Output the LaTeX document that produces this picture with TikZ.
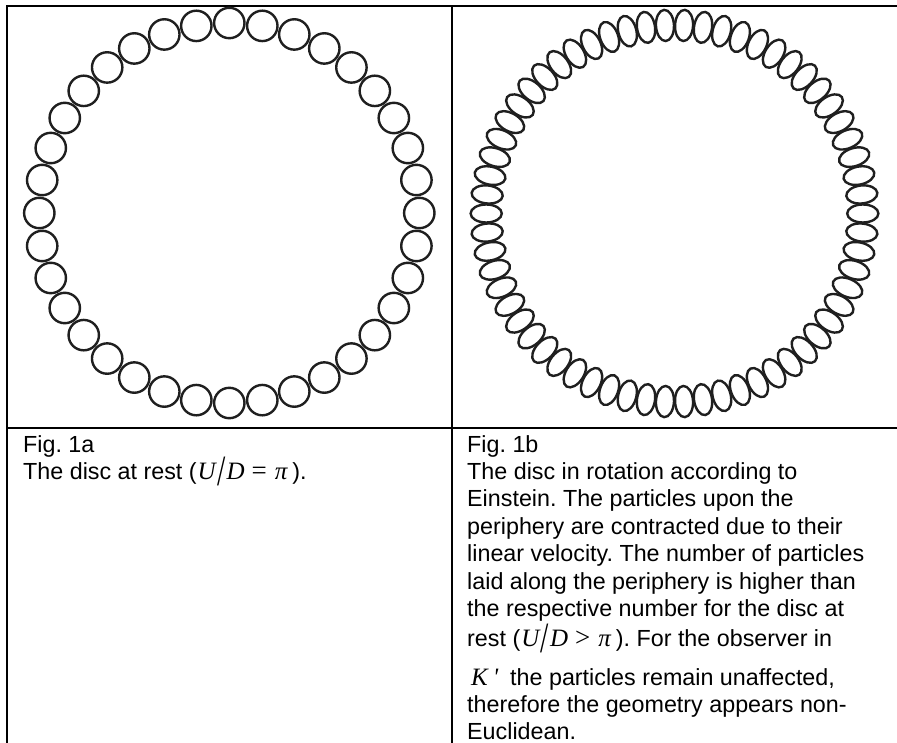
\documentclass[tikz,border=0pt]{standalone}
\usepackage{fontspec}
\setmainfont{Liberation Sans}
\newfontfamily\tms{Liberation Serif}
\usepackage{graphicx}
\frenchspacing
\newcommand\mvar[1]{{\tms\itshape\fontsize{25}{27}\selectfont #1}}
\newcommand\mup[1]{{\tms\fontsize{27}{27}\selectfont #1}}
\newcommand\bigslash{\hspace{1.5pt}\raisebox{-0.28em}{\scalebox{1.1}[1.6]{\mup{/}}}\hspace{1pt}}
\tikzset{
  frame/.style={line width=2.2pt, black, line cap=rect},
  bead/.style={line width=2.4pt, black!88},
  txt/.style={anchor=base west, inner sep=0pt, font=\fontsize{23.3}{27}\selectfont},
}
\begin{document}
\begin{tikzpicture}[x=1pt,y=-1pt]
\useasboundingbox (0,0) rectangle (897,743);
\fill[white] (0,0) rectangle (897,743);
% table lines
\draw[frame] (7,745) -- (7,6) -- (899,6);
\draw[frame] (452,6) -- (452,745);
\draw[frame] (7,428) -- (899,428);
% disc at rest
\foreach \i in {0,...,35}
  \draw[bead] ({229.3+190*cos(\i*10)},{213+190*sin(\i*10)}) circle[radius=15.2];
% rotating disc
\begin{scope}[shift={(674.5,213.5)}]
\foreach \i in {0,...,61}
  \draw[bead, rotate={\i*5.80645}] (188.3,0) ellipse[x radius=15.6, y radius=9.0];
\end{scope}
% captions left
\node[txt] (la1) at (23,452) {Fig. 1a};
\node[txt] (la2) at (23,479) {The disc at rest (\hspace{1pt}\mvar{U}\bigslash\mvar{D}\hspace{7pt}\mup{=}\hspace{8pt}\mvar{π}\hspace{5pt}).};
% captions right
\node[txt] (lb1) at (467,452) {Fig. 1b};
\node[txt] (lb2) at (467,479.3) {The disc in rotation according to};
\node[txt] (lb3) at (467,506.7) {Einstein. The particles upon the};
\node[txt] (lb4) at (467,534.3) {periphery are contracted due to their};
\node[txt] (lb5) at (467,561.7) {linear velocity. The number of particles};
\node[txt] (lb6) at (467,589.3) {laid along the periphery is higher than};
\node[txt] (lb7) at (467,616.7) {the respective number for the disc at};
\node[txt] (lb8) at (467,646) {rest (\hspace{1pt}\mvar{U}\bigslash\mvar{D}\hspace{7pt}\mup{>}\hspace{8pt}\mvar{π}\hspace{5pt}). For the observer in};
\node[txt] (lb9) at (467,685) {\hspace{4pt}\mvar{K}\hspace{5pt}\mvar{'}\hspace{12pt}the particles remain unaffected,};
\node[txt] (lb10) at (467,712.7) {therefore the geometry appears non-};
\node[txt] (lb11) at (467,739.3) {Euclidean.};
\end{tikzpicture}
\end{document}
